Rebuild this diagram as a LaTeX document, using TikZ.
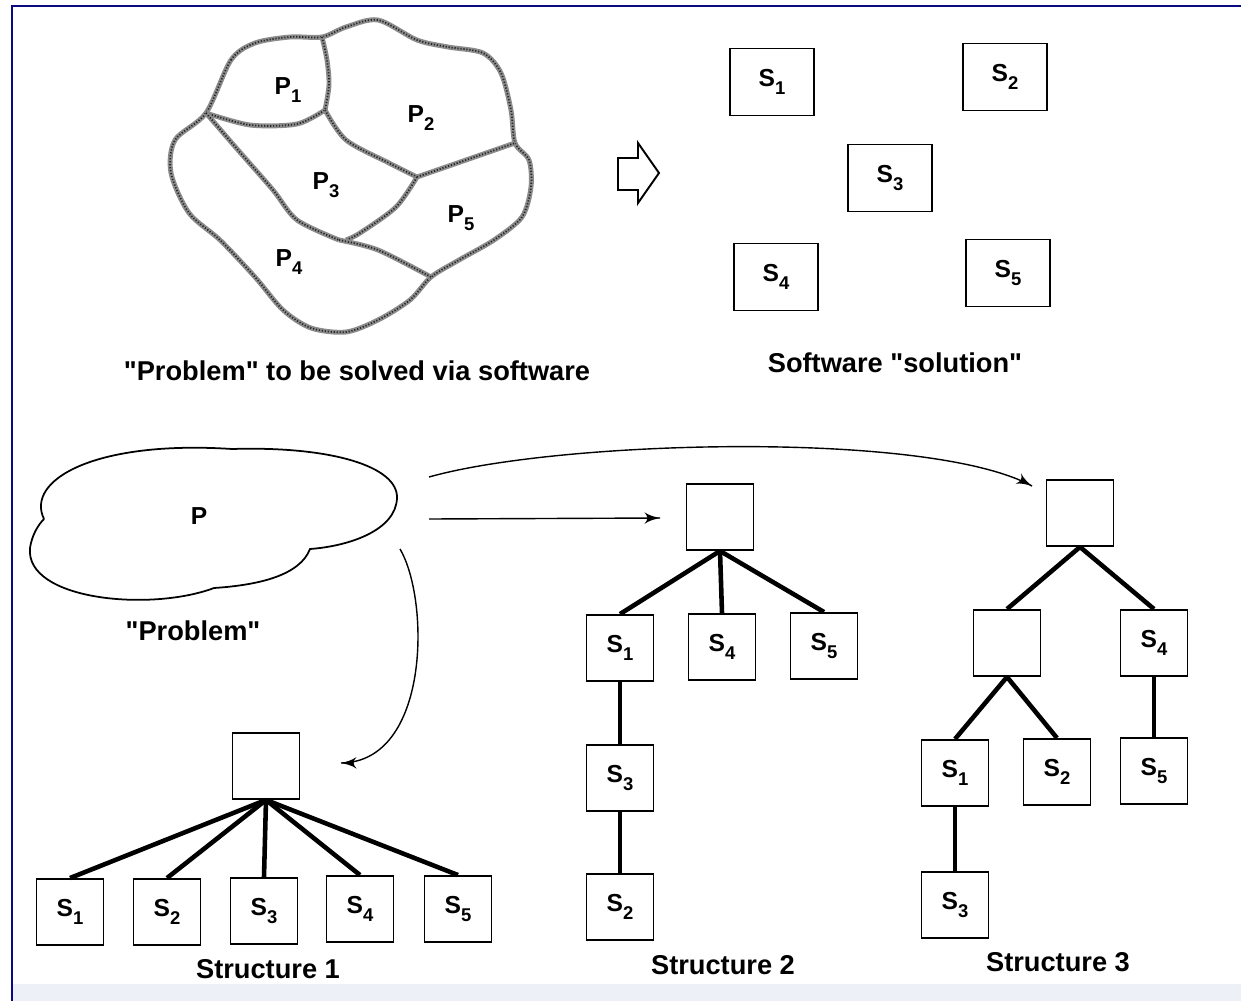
\documentclass[tikz,border=0pt]{standalone}
\usepackage{fontspec}
\setmainfont{Liberation Sans}
\usetikzlibrary{arrows}
\usetikzlibrary{decorations.markings}
\usetikzlibrary{positioning}
\tikzset{->/.style = {decoration={markings,
                                  mark=at position 0.9999 with {\arrow[scale=1.7]{latex'}}},
                      postaction={decorate}}}
\tikzset{blk/.style = {draw, line width=1.1pt, inner sep=0, minimum width=1.34cm,
                       minimum height=1.32cm, font=\fontsize{14}{14}\selectfont\bfseries}}
\tikzset{wideblk/.style = {blk, minimum width=1.68cm, minimum height=1.34cm}}
\tikzset{link/.style = {line width=2.6pt}}
\tikzset{lbl/.style = {font=\fontsize{14}{14}\selectfont\bfseries}}
\tikzset{caption/.style = {font=\fontsize{15.5}{16}\selectfont\bfseries}}
\tikzset{beads/.style = {draw=black!45, line width=2.8pt, line join=round,
                         postaction={draw=black!85, line width=1pt, dash pattern=on 0.7pt off 1pt}}}
\definecolor{mnavy}{rgb}{0.04, 0.04, 0.5}
\definecolor{mstrip}{rgb}{0.93, 0.94, 0.97}
\newcommand{\Sx}[1]{S\raisebox{-0.6ex}{\fontsize{10.5}{10}\selectfont #1}}
\newcommand{\Px}[1]{P\raisebox{-0.6ex}{\fontsize{10.5}{10}\selectfont #1}}
\newcommand{\qt}{\textquotedbl}

\begin{document}
\begin{tikzpicture}[x=0.02cm, y=-0.02cm]
          \useasboundingbox (0, 0) rectangle (1241, 1001);
          \fill [white] (0, 0) rectangle (1241, 1001);
          \fill [mstrip] (12, 984) rectangle (1241, 1001);
          \draw [mnavy, line width=1.4pt] (12, 1001) -- (12, 6) -- (1241, 6);

          \draw [beads] plot [smooth cycle] coordinates {(206, 113) (231, 60) (255, 43) (290, 37)
            (322, 37) (346, 27) (378, 20) (417, 40) (448, 47) (483, 53) (501, 73) (511, 110)
            (515, 143) (529, 160) (531, 187) (522, 217) (494, 240) (459, 260) (431, 277)
            (410, 300) (378, 320) (346, 332) (311, 328) (283, 310) (255, 277) (220, 240)
            (189, 213) (171, 173) (175, 140)};
          \draw [beads] plot [smooth] coordinates {(206, 113) (250, 125) (297, 124) (325, 110)};
          \draw [beads] plot [smooth] coordinates {(322, 37) (327, 60) (329, 85) (325, 110)};
          \draw [beads] plot [smooth] coordinates {(325, 110) (346, 140) (389, 163) (417, 177)};
          \draw [beads] plot [smooth] coordinates {(417, 177) (466, 160) (515, 143)};
          \draw [beads] plot [smooth] coordinates {(417, 177) (396, 207) (360, 233) (346, 240)};
          \draw [beads] plot [smooth] coordinates {(206, 113) (238, 150) (273, 190) (297, 220) (339, 240)};
          \draw [beads] plot [smooth] coordinates {(339, 240) (378, 250) (431, 277)};
          \node [lbl] (p1) at (288, 90) {\Px{1}};
          \node [lbl] (p2) at (421, 118) {\Px{2}};
          \node [lbl] (p3) at (326, 185) {\Px{3}};
          \node [lbl] (p5) at (461, 218) {\Px{5}};
          \node [lbl] (p4) at (289, 262) {\Px{4}};
          \node [caption] (probcap) at (357, 371) {\qt Problem\qt{} to be solved via software};

          \draw [line width=1.1pt, line join=miter] (618, 158) -- (638, 158) -- (638, 143)
            -- (659, 173) -- (638, 203) -- (638, 190) -- (618, 190) -- cycle;

          \node [wideblk] (ss1) at (772, 82) {\Sx{1}};
          \node [wideblk] (ss2) at (1005, 77) {\Sx{2}};
          \node [wideblk] (ss3) at (890, 178) {\Sx{3}};
          \node [wideblk] (ss4) at (776, 277) {\Sx{4}};
          \node [wideblk] (ss5) at (1008, 273) {\Sx{5}};
          \node [caption] (solcap) at (895, 363) {Software \qt solution\qt};

          \draw [line width=1pt] (44, 519) .. controls (25, 480) and (95, 440) .. (232, 449)
            .. controls (330, 446) and (398, 466) .. (397, 498)
            .. controls (396, 530) and (350, 546) .. (310, 549)
            .. controls (300, 575) and (260, 585) .. (214, 588)
            .. controls (150, 612) and (25, 600) .. (30, 548)
            .. controls (32, 535) and (38, 525) .. (44, 519);
          \node [lbl] (p) at (199, 516) {P};
          \node [caption] (cloudcap) at (193, 631) {\qt Problem\qt};

          \coordinate (o1) at (429, 519);
          \coordinate (e1) at (660, 518);
          \coordinate (o2) at (429, 477);
          \coordinate (e2) at (1032, 486);
          \coordinate (o3) at (400, 549);
          \coordinate (e3) at (341, 763);
          \draw [->, line width=0.8pt] (o1) -- (e1);
          \draw [->, line width=0.8pt] (o2) .. controls (560, 440) and (930, 430) .. (e2);
          \draw [->, line width=0.8pt] (o3) .. controls (430, 600) and (430, 762) .. (e3);

          \node [blk] (r1) at (266, 766) {};
          \node [blk] (a1) at (70, 912) {\Sx{1}};
          \node [blk] (a2) at (167, 912) {\Sx{2}};
          \node [blk] (a3) at (264, 911) {\Sx{3}};
          \node [blk] (a4) at (360, 909) {\Sx{4}};
          \node [blk] (a5) at (458, 909) {\Sx{5}};
          \draw [link] (r1.south) -- (a1.north);
          \draw [link] (r1.south) -- (a2.north);
          \draw [link] (r1.south) -- (a3.north);
          \draw [link] (r1.south) -- (a4.north);
          \draw [link] (r1.south) -- (a5.north);
          \node [caption] (cap1) at (268, 969) {Structure 1};

          \node [blk] (r2) at (720, 517) {};
          \node [blk] (b1) at (620, 648) {\Sx{1}};
          \node [blk] (b4) at (722, 647) {\Sx{4}};
          \node [blk] (b5) at (824, 646) {\Sx{5}};
          \node [blk] (b3) at (620, 778) {\Sx{3}};
          \node [blk] (b2) at (620, 907) {\Sx{2}};
          \draw [link] (r2.south) -- (b1.north);
          \draw [link] (r2.south) -- (b4.north);
          \draw [link] (r2.south) -- (b5.north);
          \draw [link] (b1.south) -- (b3.north);
          \draw [link] (b3.south) -- (b2.north);
          \node [caption] (cap2) at (723, 965) {Structure 2};

          \node [blk] (r3) at (1080, 513) {};
          \node [blk] (m3) at (1007, 643) {};
          \node [blk] (c4) at (1154, 643) {\Sx{4}};
          \node [blk] (c1) at (955, 773) {\Sx{1}};
          \node [blk] (c2) at (1057, 772) {\Sx{2}};
          \node [blk] (c5) at (1154, 771) {\Sx{5}};
          \node [blk] (c3) at (955, 905) {\Sx{3}};
          \draw [link] (r3.south) -- (m3.north);
          \draw [link] (r3.south) -- (c4.north);
          \draw [link] (m3.south) -- (c1.north);
          \draw [link] (m3.south) -- (c2.north);
          \draw [link] (c4.south) -- (c5.north);
          \draw [link] (c1.south) -- (c3.north);
          \node [caption] (cap3) at (1058, 962) {Structure 3};
\end{tikzpicture}
\end{document}
